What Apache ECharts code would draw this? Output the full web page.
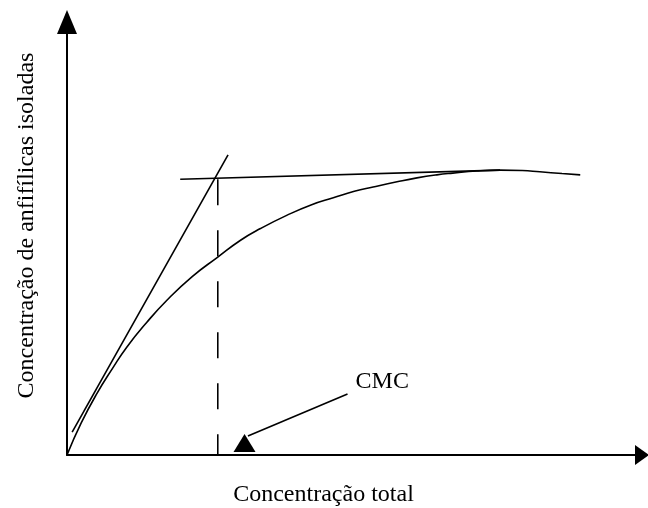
<!DOCTYPE html>
<html>
<head>
<meta charset="utf-8">
<script src="https://cdn.jsdelivr.net/npm/echarts@6/dist/echarts.min.js"></script>
<style>html,body{margin:0;padding:0;background:#fff}#c{width:648px;height:508px}</style>
</head>
<body>
<div id="c"></div>
<script>
// Schematic values (arbitrary units, 0-100 on both axes)
const xLabel = 'Concentração total';
const yLabel = 'Concentração de anfifílicas isoladas';
const cmcLabel = 'CMC';

// measured curve: concentration of isolated amphiphiles vs total concentration
const curveX = [0, 2.5, 5.3, 8, 10.5, 14, 17.6, 22, 26.5, 30.5, 34, 38.7, 43, 46.8, 50.5, 53.8, 58, 61.5, 65, 67.8, 72, 76.1, 80, 83.1, 87, 90.2];
const curveY = [0, 7.4, 14.3, 20, 24.9, 30.6, 35.8, 41.2, 45.7, 49.6, 52.3, 55.4, 57.8, 59.4, 60.9, 61.9, 63.1, 64, 64.7, 65.1, 65.6, 65.8, 65.7, 65.4, 65.0, 64.7];

// tangent to the initial slope
const tangentX = [0.9, 28.3];
const tangentY = [5.3, 69.3];

// plateau line
const plateauX = [19.9, 76.1];
const plateauY = [63.7, 65.8];

// CMC position (dashed vertical)
const cmcX = 26.5;
const cmcTopY = 63.7;

// CMC pointer arrow
const pointerX = [49.3, 31.8];
const pointerY = [14.1, 4.4];
const headX = 31.2;
const headY = 2.8;
const cmcTextX = 55.4;
const cmcTextY = 17.0;

const chart = echarts.init(document.getElementById('c'), null, {renderer: 'canvas'});
const serif = '"Liberation Serif", "Times New Roman", serif';
const lineStyle = {color: '#000', width: 1.6};

chart.setOption({
  animation: false,
  backgroundColor: '#fff',
  grid: {left: 67, right: 12, top: 22, bottom: 53, containLabel: false, outerBoundsMode: 'none'},
  xAxis: {
    type: 'value', min: 0, max: 100,
    name: xLabel, nameLocation: 'middle', nameGap: 28,
    nameTextStyle: {fontFamily: serif, fontSize: 24, color: '#000', padding: [0, 56, 0, 0]},
    axisLine: {show: true, onZero: false, symbol: ['none', 'triangle'], symbolSize: [20, 14], symbolOffset: [0, 6],
      lineStyle: {color: '#000', width: 2}},
    axisTick: {show: false}, axisLabel: {show: false}, splitLine: {show: false}
  },
  yAxis: {
    type: 'value', min: 0, max: 100,
    name: yLabel, nameLocation: 'middle', nameGap: 28, nameRotate: 90,
    nameTextStyle: {fontFamily: serif, fontSize: 24, color: '#000', padding: [0, 0, 0, 26]},
    axisLine: {show: true, onZero: false, symbol: ['none', 'triangle'], symbolSize: [20, 24], symbolOffset: [0, 0],
      lineStyle: {color: '#000', width: 2}},
    axisTick: {show: false}, axisLabel: {show: false}, splitLine: {show: false}
  },
  series: [
    {type: 'line', data: curveX.map((x, i) => [x, curveY[i]]), smooth: true, showSymbol: false, lineStyle: lineStyle},
    {type: 'line', data: tangentX.map((x, i) => [x, tangentY[i]]), showSymbol: false, lineStyle: lineStyle},
    {type: 'line', data: plateauX.map((x, i) => [x, plateauY[i]]), showSymbol: false, lineStyle: lineStyle},
    {type: 'line', data: [[cmcX, cmcTopY], [cmcX, 0]], showSymbol: false,
      lineStyle: {color: '#000', width: 1.6, type: [26, 25]}},
    {type: 'line', data: pointerX.map((x, i) => [x, pointerY[i]]), showSymbol: false, lineStyle: lineStyle},
    {type: 'scatter', data: [[headX, headY]], symbol: 'triangle', symbolSize: [22, 18],
      itemStyle: {color: '#000', opacity: 1}},
    {type: 'scatter', data: [[cmcTextX, cmcTextY]], symbolSize: 0, itemStyle: {opacity: 1},
      label: {show: true, formatter: cmcLabel, position: 'inside', fontFamily: serif, fontSize: 24, color: '#000'}}
  ]
});
</script>
</body>
</html>
